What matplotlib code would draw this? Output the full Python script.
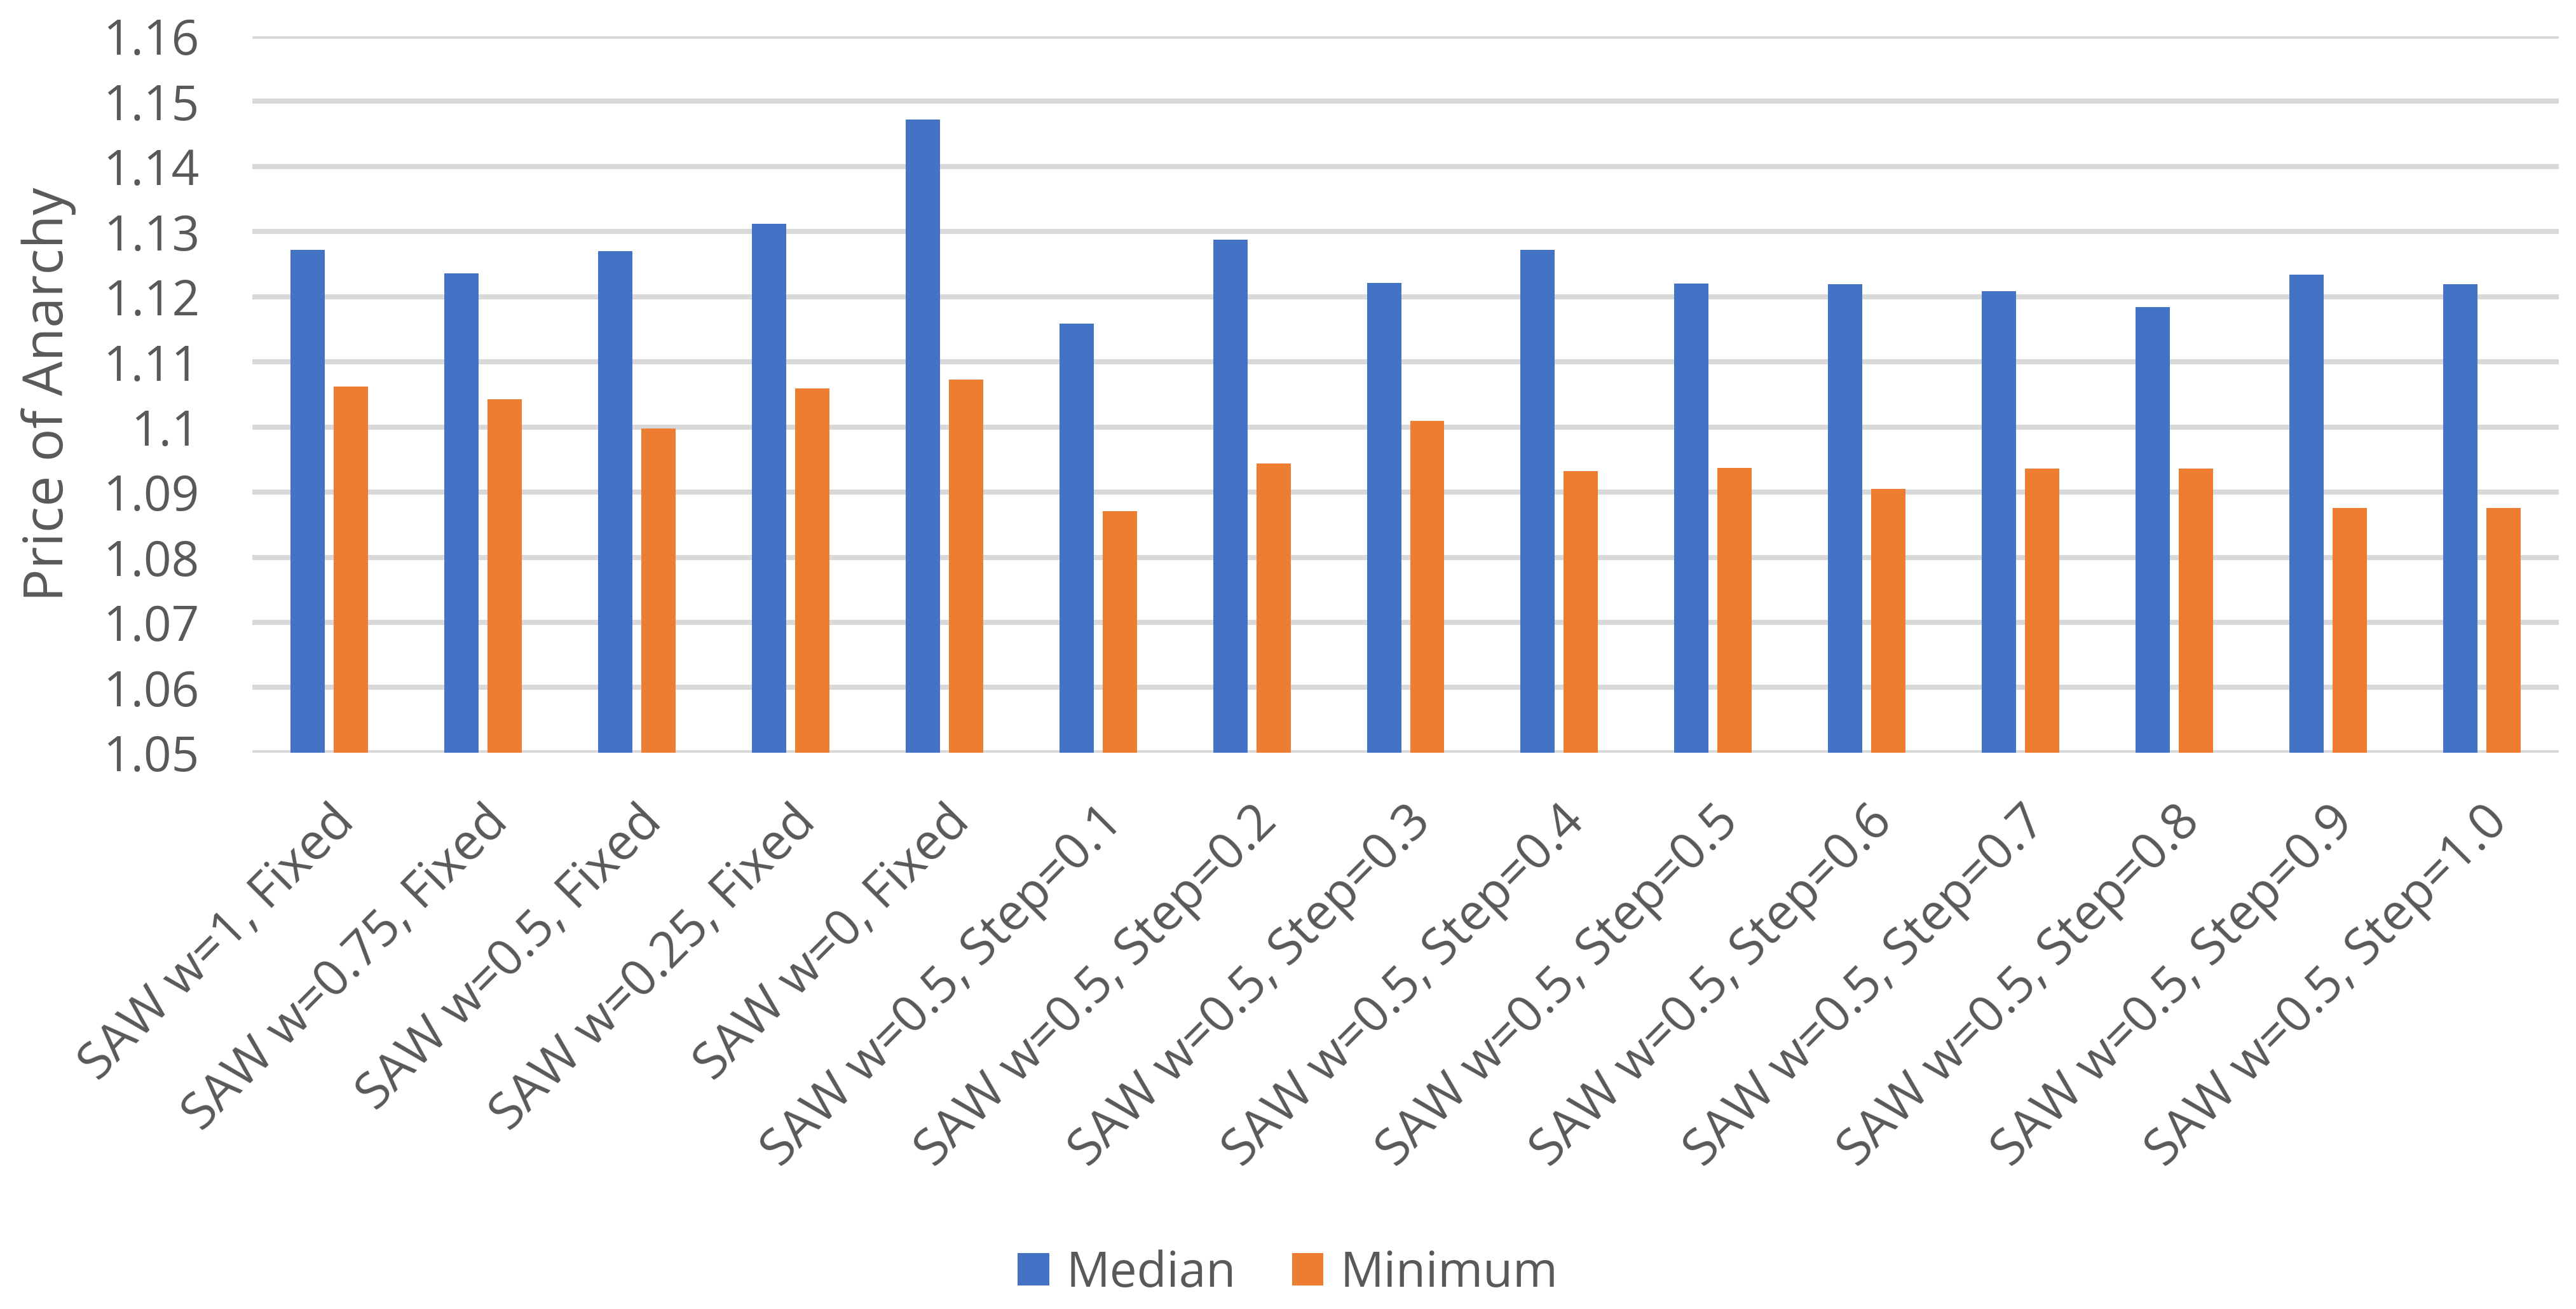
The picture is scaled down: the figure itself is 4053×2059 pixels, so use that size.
import matplotlib.pyplot as plt
import numpy as np

categorias = [
    "SAW w=1, Fixed", "SAW w=0.75, Fixed", "SAW w=0.5, Fixed", "SAW w=0.25, Fixed",
    "SAW w=0, Fixed", "SAW w=0.5, Step=0.1", "SAW w=0.5, Step=0.2", "SAW w=0.5, Step=0.3",
    "SAW w=0.5, Step=0.4", "SAW w=0.5, Step=0.5", "SAW w=0.5, Step=0.6", "SAW w=0.5, Step=0.7",
    "SAW w=0.5, Step=0.8", "SAW w=0.5, Step=0.9", "SAW w=0.5, Step=1.0",
]
mediana = [1.1272, 1.1236, 1.1270, 1.1312, 1.1472, 1.1159, 1.1288, 1.1221,
           1.1272, 1.1220, 1.1219, 1.1209, 1.1184, 1.1234, 1.1219]
minimo = [1.1062, 1.1043, 1.0998, 1.1059, 1.1073, 1.0871, 1.0944, 1.1009,
          1.0932, 1.0937, 1.0905, 1.0936, 1.0936, 1.0876, 1.0876]
yticks = [1.05, 1.06, 1.07, 1.08, 1.09, 1.10, 1.11, 1.12, 1.13, 1.14, 1.15, 1.16]
ytick_labels = ["1.05", "1.06", "1.07", "1.08", "1.09", "1.1", "1.11", "1.12",
                "1.13", "1.14", "1.15", "1.16"]

plt.rcParams['font.family'] = ['Open Sans', 'DejaVu Sans']
gris = '#595959'

fig = plt.figure(figsize=(40.53, 20.59), dpi=100)
ax = fig.add_axes([0.098, 0.425, 0.8953, 0.5473])

x = np.arange(len(categorias))
ancho = 0.223
sep = 0.058
ax.bar(x - (ancho + sep) / 2, [m - 1.05 for m in mediana], ancho, bottom=1.05,
       color='#4472C4', label='Median', zorder=3)
ax.bar(x + (ancho + sep) / 2, [m - 1.05 for m in minimo], ancho, bottom=1.05,
       color='#ED7D31', label='Minimum', zorder=3)

ax.set_xlim(-0.5, len(categorias) - 0.5)
ax.set_ylim(1.05, 1.16)
ax.set_yticks(yticks)
ax.set_yticklabels(ytick_labels, fontsize=55, color=gris)
ax.yaxis.grid(True, color='#d9d9d9', linewidth=5.8, zorder=0)
ax.set_axisbelow(True)
for s in ax.spines.values():
    s.set_visible(False)
ax.tick_params(axis='both', length=0)
ax.tick_params(axis='y', pad=60)

ax.set_xticks(x)
ax.set_xticklabels(categorias, rotation=45, ha='right', rotation_mode='anchor',
                   fontsize=57, color=gris)
ax.tick_params(axis='x', pad=50)
ax.set_ylabel("Price of Anarchy", fontsize=62, color=gris)
ax.yaxis.set_label_coords(-0.0765, 0.5)

fig.legend(loc='center', bbox_to_anchor=(0.5, 0.027), ncol=2, frameon=False,
           fontsize=55, labelcolor=gris, handlelength=0.65, handleheight=0.65,
           handletextpad=0.35, columnspacing=1.15)

fig.savefig("out.png", dpi=100)
